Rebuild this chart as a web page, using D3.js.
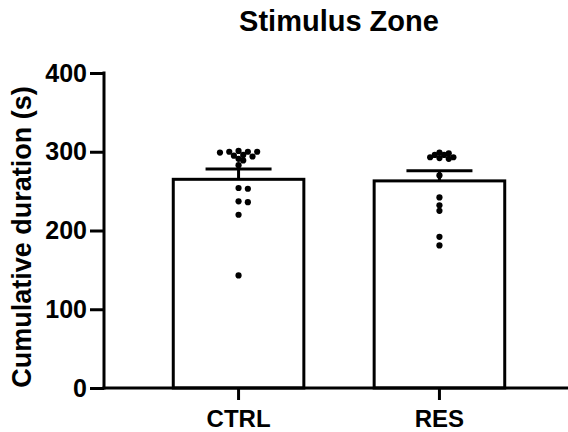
<!DOCTYPE html>
<html>
  <head>
    <meta charset="UTF-8" />
    <title>Stimulus Zone</title>
    <script src="https://cdn.jsdelivr.net/npm/d3@7"></script>
    <style>
      body { margin: 0; background: #fff; }
      svg text { font-family: "Liberation Sans", Arial, sans-serif; font-weight: bold; fill: #000; }
    </style>
  </head>
  <body>
    <svg id="chart" width="568" height="432"></svg>

    <script>
      // groups and summary values (mean, SEM)
      var groups = ['CTRL', 'RES'];
      var means = [265, 263];
      var sems = [13, 13];

      // individual animals per group
      var ctrlValues = [300, 300, 301, 300, 299, 296, 295, 294, 291, 289, 283, 254, 253, 237, 236, 220, 143];
      var resValues = [299, 293, 291, 293, 298, 292, 296, 296, 270, 242, 232, 225, 192, 181];

      var yTicks = [0, 100, 200, 300, 400];

      var svg = d3.select('#chart');

      var y = d3.scaleLinear().domain([0, 400]).range([388, 73]);
      var x = d3.scaleBand().domain(groups).range([113, 565])
        .paddingInner(0.35).paddingOuter(0.3);

      // bars
      svg.selectAll('rect.bar')
        .data(groups)
        .enter()
        .append('rect')
        .attr('class', 'bar')
        .attr('x', function (d) { return x(d); })
        .attr('width', x.bandwidth())
        .attr('y', function (d, i) { return y(means[i]); })
        .attr('height', function (d, i) { return y(0) - y(means[i]); })
        .attr('fill', '#fff')
        .attr('stroke', '#000')
        .attr('stroke-width', 3);

      // error bars (upper only)
      var capHalf = 33;
      groups.forEach(function (g, i) {
        var cx = x(g) + x.bandwidth() / 2;
        svg.append('line')
          .attr('x1', cx).attr('x2', cx)
          .attr('y1', y(means[i])).attr('y2', y(means[i] + sems[i]))
          .attr('stroke', '#000').attr('stroke-width', 3);
        svg.append('line')
          .attr('x1', cx - capHalf).attr('x2', cx + capHalf)
          .attr('y1', y(means[i] + sems[i])).attr('y2', y(means[i] + sems[i]))
          .attr('stroke', '#000').attr('stroke-width', 3);
      });

      // simple beeswarm, dots allowed to overlap a bit like Prism does
      var r = 3.1;
      function swarm(values, cx) {
        var placed = [];
        values.slice().sort(function (a, b) { return b - a; }).forEach(function (v) {
          var cy = y(v);
          for (var k = 0; k < 40; k++) {
            var off = (k % 2 ? 1 : -1) * Math.ceil(k / 2) * (r * 1.5);
            var ok = placed.every(function (p) {
              var dx = p.x - (cx + off), dy = p.y - cy;
              return dx * dx + dy * dy >= (1.55 * r) * (1.55 * r);
            });
            if (ok) { placed.push({ x: cx + off, y: cy }); break; }
          }
        });
        return placed;
      }

      [ctrlValues, resValues].forEach(function (vals, i) {
        var cx = x(groups[i]) + x.bandwidth() / 2;
        svg.selectAll(null)
          .data(swarm(vals, cx))
          .enter()
          .append('circle')
          .attr('cx', function (d) { return d.x; })
          .attr('cy', function (d) { return d.y; })
          .attr('r', r)
          .attr('fill', '#000');
      });

      // y axis
      var yAxis = svg.append('g')
        .attr('transform', 'translate(104,0)')
        .call(d3.axisLeft(y).tickValues(yTicks).tickSize(14).tickPadding(3));
      yAxis.select('.domain').remove();
      yAxis.selectAll('.tick line').attr('stroke-width', 3);
      yAxis.selectAll('.tick text').style('font-size', '25px');
      svg.append('line')
        .attr('x1', 104).attr('x2', 104)
        .attr('y1', y(400) - 1.5).attr('y2', y(0) + 1.5)
        .attr('stroke', '#000').attr('stroke-width', 3);

      // x axis
      var xAxis = svg.append('g')
        .attr('transform', 'translate(0,388)')
        .call(d3.axisBottom(x).tickSize(12).tickPadding(10));
      xAxis.select('.domain').remove();
      xAxis.selectAll('.tick line').attr('stroke-width', 3);
      xAxis.selectAll('.tick text').style('font-size', '24px');
      svg.append('line')
        .attr('x1', 102.5).attr('x2', 568)
        .attr('y1', 388).attr('y2', 388)
        .attr('stroke', '#000').attr('stroke-width', 3);

      // y label
      svg.append('text')
        .attr('transform', 'translate(31,237) rotate(-90)')
        .attr('text-anchor', 'middle')
        .style('font-size', '27px')
        .text('Cumulative duration (s)');

      // title
      svg.append('text')
        .attr('x', 339)
        .attr('y', 31)
        .attr('text-anchor', 'middle')
        .style('font-size', '29px')
        .text('Stimulus Zone');
    </script>
  </body>
</html>
